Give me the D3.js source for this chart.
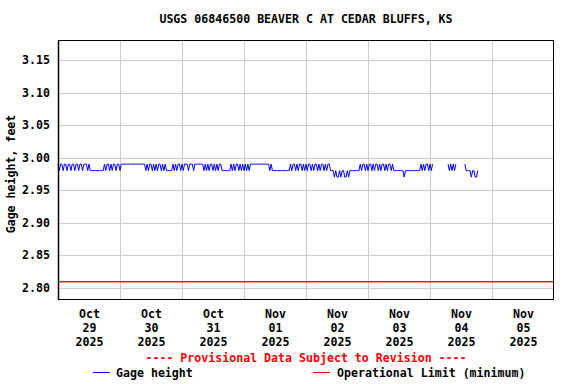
<!DOCTYPE html>
<html>
<head>
<meta charset="utf-8">
<script src="https://cdn.jsdelivr.net/npm/d3@7/dist/d3.min.js"></script>
<style>
  html, body { margin: 0; padding: 0; background: #fff; }
  svg { display: block; }
  text { font-family: "DejaVu Sans Mono", "Liberation Mono", monospace; font-weight: bold; font-size: 11.6px; fill: #000; }
</style>
</head>
<body>
<svg id="chart" width="576" height="384"></svg>
<script>
// ---- Data (30-minute gage height readings, feet; null = missing) ----
const title = "USGS 06846500 BEAVER C AT CEDAR BLUFFS, KS";
const yLabel = "Gage height, feet";
const startTime = "2025-10-29T00:00:00Z";
const endTime = "2025-11-06T00:00:00Z";
const stepMinutes = 30;

const oct29 = [2.99,2.98,2.99,2.99,2.98,2.99,2.99,2.98,2.99,2.99,2.98,2.99,2.99,2.98,2.99,2.99,2.98,2.99,2.99,2.98,2.99,2.99,2.99,2.98,
  2.99,2.98,2.98,
  2.98,2.98,2.98,2.98,2.98,2.98,2.98,2.98,2.98,
  2.99,2.98,2.99,2.99,2.98,2.99,2.98,2.99,2.99,2.98,2.99,2.99];
const oct30 = [2.98,2.99,
  2.99,2.99,2.99,2.99,2.99,2.99,2.99,2.99,2.99,2.99,2.99,2.99,2.99,2.99,2.99,2.99,2.99,2.99,
  2.98,2.99,2.98,2.99,2.99,2.98,2.99,2.98,2.99,2.98,2.99,2.99,2.98,2.99,2.98,2.99,2.98,
  2.98,2.98,2.98,2.98,
  2.99,2.98,2.99,2.98,2.99,2.99,2.98];
const oct31 = [2.99,2.98,2.99,2.99,2.99,2.98,2.99,2.99,2.99,2.98,
  2.99,2.99,2.99,2.99,2.99,2.99,2.99,
  2.98,2.99,2.98,2.99,2.98,2.99,2.99,2.98,2.99,2.98,2.99,2.98,2.99,2.99,2.98,
  2.98,2.98,2.98,2.98,2.98,2.98,
  2.99,2.98,2.99,2.98,2.99,2.99,2.98,2.99,2.98,2.99];
const nov01 = [2.98,2.99,2.98,2.99,2.98,2.99,
  2.99,2.99,2.99,2.99,2.99,2.99,2.99,2.99,2.99,2.99,2.99,2.99,2.99,2.99,
  2.98,2.99,2.98,2.98,2.98,
  2.98,2.98,2.98,2.98,2.98,2.98,2.98,2.98,2.98,2.98,2.98,
  2.99,2.98,2.99,2.99,2.98,2.99,2.98,2.99,2.99,2.98,2.99,2.98];
const nov02 = [2.99,2.98,2.99,2.99,2.98,2.99,2.98,2.99,2.99,2.98,2.99,2.98,2.99,2.99,2.98,2.99,2.98,2.99,2.99,2.98,2.98,
  2.98,2.97,2.98,2.97,2.97,2.98,2.97,2.98,2.98,2.97,2.97,2.98,2.97,2.98,2.98,2.98,
  2.98,2.98,2.98,2.98,2.98,
  2.99,2.98,2.99,2.99,2.98,2.99];
const nov03 = [2.98,2.99,2.99,2.98,2.99,2.98,2.99,2.99,2.98,2.99,2.98,2.99,2.99,2.98,2.99,2.98,2.99,2.99,2.98,2.99,2.98,
  2.98,2.98,2.98,2.98,2.98,2.98,2.98,2.97,2.98,2.98,2.98,2.98,2.98,2.98,2.98,2.98,2.98,2.98,2.98,2.98,
  2.99,2.98,2.99,2.98,2.99,2.99,2.98];
const nov04 = [2.99,2.98,2.99,
  null,null,null,null,null,null,null,null,null,null,null,
  2.99,2.98,2.99,2.98,2.99,2.98,2.99,
  null,null,null,null,null,null,
  2.99,
  2.98,2.98,2.98,2.98,2.97,2.98,2.98,2.97,2.97,2.98];

const operationalLimit = 2.81;
const yTicks = [2.80, 2.85, 2.90, 2.95, 3.00, 3.05, 3.10, 3.15];
const xTickMonths = ["Oct","Oct","Oct","Nov","Nov","Nov","Nov","Nov"];
const xTickDays = ["29","30","31","01","02","03","04","05"];
const xTickYears = ["2025","2025","2025","2025","2025","2025","2025","2025"];
const provisionalText = "---- Provisional Data Subject to Revision ----";
const legendLabels = ["Gage height", "Operational Limit (minimum)"];

// ---- Build series ----
const t0 = new Date(startTime);
const t1 = new Date(endTime);
const allValues = [].concat(oct29, oct30, oct31, nov01, nov02, nov03, nov04);
const series = allValues.map((v, k) => ({ t: new Date(t0.getTime() + k * stepMinutes * 60000), v }));

// ---- Layout ----
const svg = d3.select("#chart");
const L = 58, R = 554, T = 40, B = 300;

const x = d3.scaleUtc().domain([t0, t1]).range([L, R]);
const y = d3.scaleLinear().domain([2.7811, 3.1808]).range([B, T]);

// Background of plot
svg.append("rect").attr("x", L).attr("y", T).attr("width", R - L).attr("height", B - T).attr("fill", "#fff");

// Horizontal gridlines via axis
const yGrid = svg.append("g").attr("transform", `translate(${L},0)`)
  .call(d3.axisLeft(y).tickValues(yTicks).tickSize(-(R - L)).tickFormat(""));
yGrid.select(".domain").remove();
yGrid.selectAll("line").attr("stroke", "#cccccc").attr("stroke-width", 1).attr("shape-rendering", "crispEdges");

// Vertical gridlines at midnights
const midnights = d3.utcDay.range(d3.utcDay.offset(t0, 1), t1);
const xGrid = svg.append("g").attr("transform", `translate(0,${T})`)
  .call(d3.axisBottom(x).tickValues(midnights).tickSize(B - T).tickFormat(""));
xGrid.select(".domain").remove();
xGrid.selectAll("line").attr("stroke", "#cccccc").attr("stroke-width", 1).attr("shape-rendering", "crispEdges");

// Operational limit line (1px filled band)
const yLim = Math.round(y(operationalLimit));
svg.append("rect")
  .attr("x", L).attr("y", yLim).attr("width", R - L).attr("height", 1.4)
  .attr("fill", "#ff0000").style("fill", "#ff0000");

// Gage height line
const line = d3.line()
  .defined(d => d.v != null)
  .x(d => x(d.t))
  .y(d => y(d.v));
svg.append("path").datum(series)
  .attr("d", line)
  .attr("fill", "none")
  .attr("stroke", "#0000ff")
  .attr("stroke-width", 1);

// Frame
svg.append("rect").attr("x", L + 0.5).attr("y", T + 0.5).attr("width", R - L - 1).attr("height", B - T - 1)
  .attr("fill", "none").attr("stroke", "#000").attr("stroke-width", 1);
svg.append("line").attr("x1", L + 0.5).attr("x2", L + 0.5).attr("y1", T).attr("y2", B)
  .attr("stroke", "#000").attr("stroke-width", 1.5);

// Y tick labels
const yAxis = svg.append("g").attr("transform", `translate(${L},0)`)
  .call(d3.axisLeft(y).tickValues(yTicks).tickSize(0).tickPadding(8).tickFormat(d3.format(".2f")));
yAxis.select(".domain").remove();
yAxis.selectAll("text").attr("font-size", null).attr("font-family", null).attr("fill", "#000");

// X tick labels (noon of each day)
const noons = midnights.map(d => d3.utcHour.offset(d, -12));
noons.push(d3.utcHour.offset(t1, -12));
const xAxis = svg.append("g").attr("transform", `translate(0,${B})`)
  .call(d3.axisBottom(x).tickValues(noons).tickSize(0).tickFormat(""));
xAxis.select(".domain").remove();
xAxis.selectAll(".tick").each(function(d, i) {
  const g = d3.select(this);
  g.select("text").remove();
  const txt = g.append("text").attr("text-anchor", "middle").attr("fill", "#000");
  txt.append("tspan").attr("x", 0).attr("y", 18).text(xTickMonths[i]);
  txt.append("tspan").attr("x", 0).attr("y", 32).text(xTickDays[i]);
  txt.append("tspan").attr("x", 0).attr("y", 45.5).text(xTickYears[i]);
});

// Title
svg.append("text").attr("x", (L + R) / 2).attr("y", 23).attr("text-anchor", "middle").text(title);

// Y axis title
svg.append("text")
  .attr("transform", `translate(15,174) rotate(-90)`)
  .attr("text-anchor", "middle").text(yLabel);

// Provisional text
svg.append("text").attr("x", (L + R) / 2).attr("y", 362).attr("text-anchor", "middle")
  .style("fill", "#ff0000").text(provisionalText);

// Legend
const legendY = 372.5;
svg.append("line").attr("x1", 93).attr("x2", 110).attr("y1", legendY).attr("y2", legendY).attr("stroke", "#0000ff").attr("stroke-width", 1);
svg.append("text").attr("x", 116).attr("y", 376.5).text(legendLabels[0]);
svg.append("line").attr("x1", 313).attr("x2", 330).attr("y1", legendY).attr("y2", legendY).attr("stroke", "#ff0000").attr("stroke-width", 1);
svg.append("text").attr("x", 337).attr("y", 376.5).text(legendLabels[1]);
</script>
</body>
</html>
